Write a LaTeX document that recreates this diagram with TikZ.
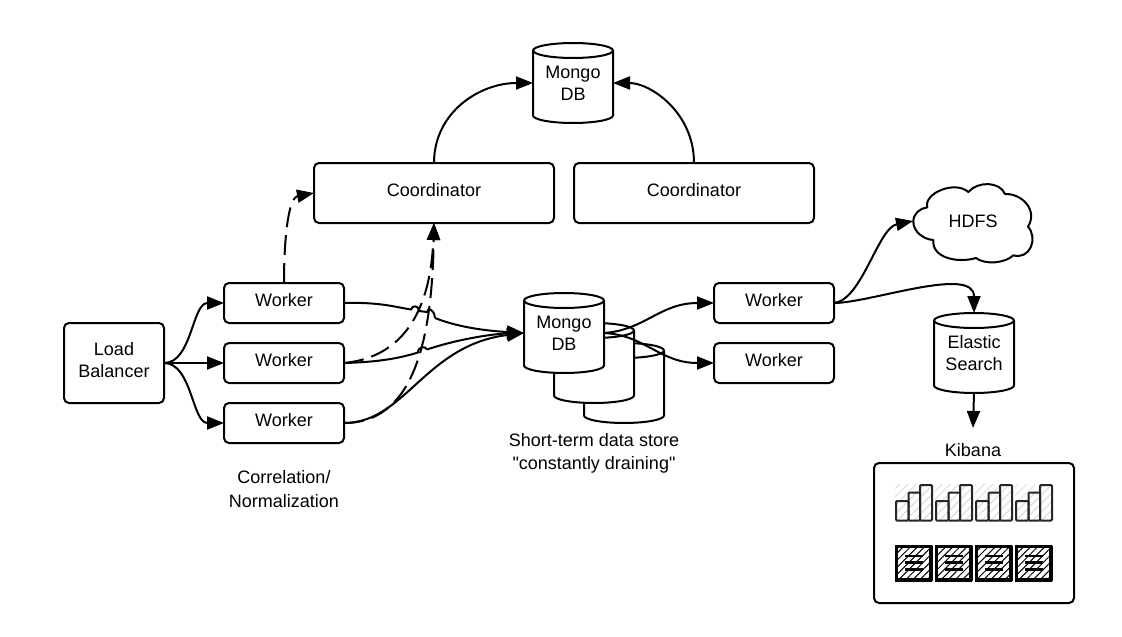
\documentclass[tikz,border=0pt]{standalone}
\usepackage{fontspec}
\setmainfont{Liberation Sans}[Ligatures=TeXOff]
\usetikzlibrary{arrows.meta,patterns.meta}
\tikzset{
  box/.style={draw=black,fill=white,line width=2pt,rounded corners=5pt,outer sep=0pt,inner sep=0pt,align=center,text depth=6pt,font=\fontsize{18}{22}\selectfont},
  plain/.style={inner sep=0pt,outer sep=0pt,align=center,font=\fontsize{18}{22}\selectfont},
  outline/.style={draw=black,fill=white,line width=2pt,line join=round},
  conn/.style={draw=black,line width=2pt,-{Triangle[length=17pt,width=13pt]}},
  plainline/.style={draw=black,line width=2pt},
  dashconn/.style={conn,dash pattern=on 20pt off 8pt},
  barbox/.style={draw=black!85,line width=2pt,rounded corners=1pt,pattern={Lines[angle=45,distance=6pt,line width=1pt]},pattern color=black!12},
}
\newcommand{\cylshape}[5]{%
  \begin{scope}[shift={(#2,#3)}]
    \draw[outline] (-40,-32.5) -- (-40,32.5) .. controls (-40,36.6) and (-22,40) .. (0,40) .. controls (22,40) and (40,36.6) .. (40,32.5) -- (40,-32.5) .. controls (40,-36.6) and (22,-40) .. (0,-40) .. controls (-22,-40) and (-40,-36.6) .. (-40,-32.5) -- cycle;
    \draw[outline,fill=none] (-40,-32.5) .. controls (-40,-28.4) and (-22,-25) .. (0,-25) .. controls (22,-25) and (40,-28.4) .. (40,-32.5);
  \end{scope}
  \node[plain,minimum width=80pt,minimum height=80pt] (#1) at (#2,#3) {#4};%
}
\begin{document}
\begin{tikzpicture}[x=1pt,y=-1pt]
\fill[white] (0,0) rectangle (1122,637);
\useasboundingbox (0,0) rectangle (1122,637);

% Boxes
\node[box,minimum width=100pt,minimum height=80pt] (lb) at (114,363) {Load\\Balancer};
\node[box,minimum width=120pt,minimum height=40pt] (w1) at (284,303) {Worker};
\node[box,minimum width=120pt,minimum height=40pt] (w2) at (284,363) {Worker};
\node[box,minimum width=120pt,minimum height=40pt] (w3) at (284,423) {Worker};
\node[box,minimum width=240pt,minimum height=60pt] (c1) at (434,193) {Coordinator};
\node[box,minimum width=240pt,minimum height=60pt] (c2) at (694,193) {Coordinator};
\node[box,minimum width=120pt,minimum height=40pt] (w4) at (774,303) {Worker};
\node[box,minimum width=120pt,minimum height=40pt] (w5) at (774,363) {Worker};

% Cylinders
\cylshape{topdb}{573}{83}{Mongo\\DB}{}
\cylshape{db3}{624}{383}{}{}
\cylshape{db2}{594}{363}{}{}
\cylshape{db1}{564}{333}{Mongo\\DB}{}
\cylshape{es}{974}{353}{Elastic\\Search}{}

% Cloud
\begin{scope}[x=0.33333pt,y=-0.33333pt,shift={(2490,540)}]
\draw[outline] (250,125) .. controls (250,100) and (270,85) .. (292,82)
  .. controls (280,40) and (375,0) .. (415,36)
  .. controls (445,2) and (510,5) .. (525,42)
  .. controls (575,40) and (625,90) .. (594,140)
  .. controls (625,175) and (600,240) .. (550,226)
  .. controls (525,250) and (465,255) .. (438,234)
  .. controls (385,250) and (305,235) .. (310,180)
  .. controls (280,178) and (250,155) .. (250,125) -- cycle;
\end{scope}
\node[plain,minimum width=120pt,minimum height=80pt] (hdfs) at (973,221) {HDFS};

% Kibana
\node[plain,minimum height=44pt] (kibana) at (973,450) {Kibana};
\node[box,minimum width=200pt,minimum height=140pt] (panel) at (974,533) {};
\foreach \dx in {0,40,80,120} {
  \begin{scope}[shift={(\dx,0)}]
    \fill[pattern={Lines[angle=45,distance=6pt,line width=1pt]},pattern color=black!12] (895,484) rectangle (932,520);
    \draw[barbox] (896,501) rectangle (908.5,520.5);
    \draw[barbox] (908.5,492.5) rectangle (920,520.5);
    \draw[barbox] (920,485) rectangle (932,520.5);
    \fill[pattern={Lines[angle=45,distance=5pt,line width=1pt]},pattern color=black] (895,545) rectangle (932,581);
    \draw[black,line width=1pt,dash pattern=on 1.5pt off 1.5pt] (895,545) rectangle (932.5,581.5);
    \draw[black,line width=3.5pt,line join=round] (896.5,546.5) rectangle (931,580);
    \draw[black,line width=2.6pt] (905,556) -- (923,556) (905,562.7) -- (923,562.7) (905,569.3) -- (923,569.3);
  \end{scope}
}

% Labels
\node[plain,font=\fontsize{18}{24}\selectfont] (note1) at (284,489) {Correlation/\\Normalization};
\node[plain,font=\fontsize{18}{23}\selectfont] (note2) at (594,453) {Short-term data store\\"constantly draining"};

% Load balancer to workers
\draw[conn] (lb.east) .. controls (192,363) and (192,303) .. (w1.west);
\draw[conn] (lb.east) .. controls (185,363) and (200,363) .. (w2.west);
\draw[conn] (lb.east) .. controls (192,363) and (192,423) .. (w3.west);

% Dashed connectors
\draw[dashconn] (w1.north) .. controls (284,240) and (288,198) .. (c1.west);
\draw[dashconn] (w2.east) .. controls (395,358) and (430,322) .. (c1.south);
\draw[dashconn] (w3.east) .. controls (410,423) and (432,350) .. (c1.south);

% Workers to store, with line jumps
\draw[plainline] (w1.east) .. controls (380,302) and (395,307) .. (411,309.5)
  .. controls (412,305) and (419,305) .. (419,311)
  .. controls (422,312) and (424,311) .. (427,312)
  .. controls (428,307) and (434,309) .. (435,318);
\draw[conn] (435,318) .. controls (460,328) and (490,331) .. (db1.west);
\draw[plainline] (w2.east) .. controls (380,362) and (400,358) .. (418,352.5)
  .. controls (418,346) and (426,346) .. (427,349.5);
\draw[conn] (427,349.5) .. controls (455,340) and (490,334) .. (db1.west);
\draw[conn] (w3.east) .. controls (405,423) and (425,345) .. (db1.west);

% Coordinators to top store
\draw[conn] (c1.north) .. controls (434,112) and (480,83) .. (topdb.west);
\draw[conn] (c2.north) .. controls (694,112) and (650,83) .. (topdb.east);

% Store to workers
\draw[conn] (db1.east) .. controls (645,330) and (660,303) .. (w4.west);
\draw[conn] (db1.east) .. controls (645,335) and (660,363) .. (w5.west);

% Worker to sinks
\draw[conn] (w4.east) .. controls (862,300) and (878,228) .. (hdfs.west);
\draw[conn] (w4.east) .. controls (870,303) and (974,265) .. (es.north);
\draw[conn] (es.south) -- (kibana.north);
\end{tikzpicture}
\end{document}
